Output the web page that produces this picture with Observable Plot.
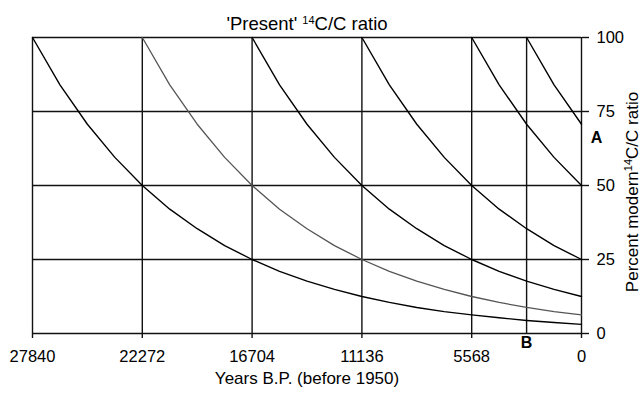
<!DOCTYPE html>
<html>
<head>
<meta charset="utf-8">
<script src="https://cdn.jsdelivr.net/npm/d3@7"></script>
<script src="https://cdn.jsdelivr.net/npm/@observablehq/plot@0.6"></script>
<style>
  html, body { margin: 0; padding: 0; background: #fff; }
  #chart svg { display: block; }
</style>
</head>
<body>
<div id="chart"></div>
<script>
// Years B.P. sample positions (step of a quarter half-life)
const yearsBP = [27840, 26448, 25056, 23664, 22272, 20880, 19488, 18096, 16704, 15312, 13920,
                 12528, 11136, 9744, 8352, 6960, 5568, 4176, 2784, 1392, 0];

// Percent modern 14C/C (each starts at 100 %)
const curve27840 = [100, 84, 70.7, 59.5, 50, 42, 35.4, 29.7, 25, 21, 17.7, 14.9, 12.5, 10.5, 8.8, 7.4, 6.3, 5.3, 4.4, 3.7, 3.1];
const curve22272 = [100, 84, 70.7, 59.5, 50, 42, 35.4, 29.7, 25, 21, 17.7, 14.9, 12.5, 10.5, 8.8, 7.4, 6.3];
const curve16704 = [100, 84, 70.7, 59.5, 50, 42, 35.4, 29.7, 25, 21, 17.7, 14.9, 12.5];
const curve11136 = [100, 84, 70.7, 59.5, 50, 42, 35.4, 29.7, 25];
const curve5568  = [100, 84, 70.7, 59.5, 50];
const curve2784  = [100, 84, 70.7];

const xTicks = [27840, 22272, 16704, 11136, 5568, 0];
const vLines = [27840, 22272, 16704, 11136, 5568, 2784, 0];
const yTicks = [0, 25, 50, 75, 100];

const titleText = "'Present' 14C/C ratio";
const yLabelText = "Percent modern14C/C ratio";
const xLabelText = "Years B.P. (before 1950)";

function series(start, values) {
  const i0 = yearsBP.indexOf(start);
  return values.map((v, i) => ({year: yearsBP[i0 + i], pct: v}));
}

const ink = "#111";
const sw = 1.4;

const plot = Plot.plot({
  width: 642,
  height: 393,
  marginLeft: 32,
  marginRight: 61,
  marginTop: 37,
  marginBottom: 60,
  style: {fontFamily: "'Liberation Sans', Arial, sans-serif", fontSize: "16px", color: "#000", background: "#fff"},
  x: {domain: [27840, 0]},
  y: {domain: [0, 100]},
  marks: [
    Plot.ruleY(yTicks, {stroke: ink, strokeWidth: sw}),
    Plot.ruleX(vLines, {y1: 0, y2: 100, stroke: ink, strokeWidth: sw}),
    Plot.axisX({ticks: xTicks, tickFormat: "d", tickSize: 5, tickPadding: 12, label: null, stroke: ink, strokeWidth: sw, fontSize: 16.5}),
    Plot.axisY({anchor: "right", ticks: yTicks, tickSize: 7, tickPadding: 8, label: null, stroke: ink, strokeWidth: sw, fontSize: 16.5}),
    Plot.line(series(27840, curve27840), {x: "year", y: "pct", stroke: "#000", strokeWidth: 1.4}),
    Plot.line(series(22272, curve22272), {x: "year", y: "pct", stroke: "#555", strokeWidth: 1.3}),
    Plot.line(series(16704, curve16704), {x: "year", y: "pct", stroke: "#000", strokeWidth: 1.4}),
    Plot.line(series(11136, curve11136), {x: "year", y: "pct", stroke: "#000", strokeWidth: 1.4}),
    Plot.line(series(5568, curve5568), {x: "year", y: "pct", stroke: "#000", strokeWidth: 1.4}),
    Plot.line(series(2784, curve2784), {x: "year", y: "pct", stroke: "#000", strokeWidth: 1.4}),
    Plot.text([titleText], {text: d => d, frameAnchor: "top", textAnchor: "middle", dy: -21, fontSize: 18.5, className: "sup14"}),
    Plot.text([xLabelText], {text: d => d, frameAnchor: "bottom", textAnchor: "middle", dy: 50, fontSize: 17}),
    Plot.text([yLabelText], {text: d => d, frameAnchor: "right", textAnchor: "middle", dx: 51, dy: 6.5, rotate: -90, fontSize: 17, className: "sup14"}),
    Plot.text(["A"], {text: d => d, x: () => 0, y: () => 66, dx: 15, fontSize: 16, fontWeight: "bold"}),
    Plot.text(["B"], {text: d => d, x: () => 2784, frameAnchor: "bottom", dy: 14.5, fontSize: 16, fontWeight: "bold"})
  ]
});

// render the "14" as a superscript
const ns = "http://www.w3.org/2000/svg";
plot.querySelectorAll(".sup14 text").forEach(t => {
  const s = t.textContent;
  const i = s.indexOf("14");
  if (i < 0) return;
  t.textContent = "";
  const a = document.createElementNS(ns, "tspan");
  a.textContent = s.slice(0, i);
  const b = document.createElementNS(ns, "tspan");
  b.textContent = "14";
  b.setAttribute("font-size", "11");
  b.setAttribute("dy", "-6");
  const c = document.createElementNS(ns, "tspan");
  c.textContent = s.slice(i + 2);
  c.setAttribute("dy", "6");
  t.append(a, b, c);
});

document.getElementById("chart").append(plot);
</script>
</body>
</html>
